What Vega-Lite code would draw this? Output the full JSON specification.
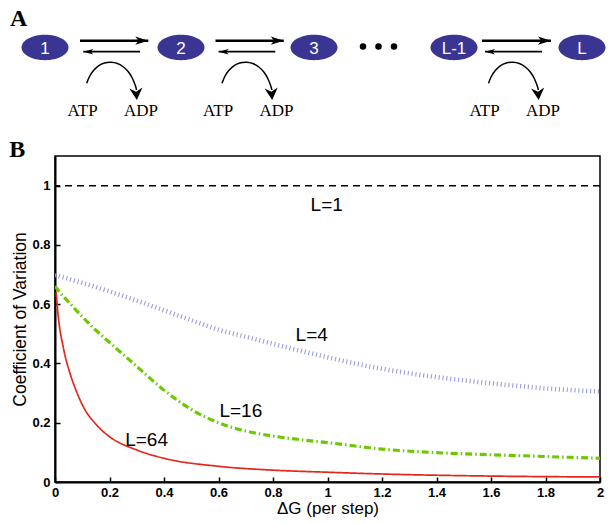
{
  "$schema": "https://vega.github.io/schema/vega-lite/v6.json",
  "width": 545,
  "height": 326,
  "autosize": {"type": "none"},
  "padding": {"left": 55, "top": 156, "right": 8, "bottom": 41},
  "background": "white",
  "config": {
    "view": {"stroke": "black", "strokeWidth": 1.5},
    "font": "Liberation Sans",
    "axis": {
      "grid": false,
      "domainColor": "black",
      "domainWidth": 2,
      "tickColor": "black",
      "tickWidth": 1.5,
      "tickSize": -5,
      "labelFont": "Liberation Sans",
      "labelFontWeight": "bold",
      "labelFontSize": 13,
      "labelColor": "black",
      "titleFont": "Liberation Sans",
      "titleFontWeight": "normal",
      "titleFontSize": 17.5,
      "titleColor": "black"
    }
  },
  "datasets": {
    "curves": [
      {"L": "4", "dg": 0, "cv": 0.698}, {"L": "4", "dg": 0.1, "cv": 0.672}, {"L": "4", "dg": 0.2, "cv": 0.643},
      {"L": "4", "dg": 0.3, "cv": 0.612}, {"L": "4", "dg": 0.4, "cv": 0.579}, {"L": "4", "dg": 0.5, "cv": 0.546},
      {"L": "4", "dg": 0.6, "cv": 0.514}, {"L": "4", "dg": 0.7, "cv": 0.49}, {"L": "4", "dg": 0.8, "cv": 0.466},
      {"L": "4", "dg": 0.9, "cv": 0.443}, {"L": "4", "dg": 1.0, "cv": 0.421}, {"L": "4", "dg": 1.1, "cv": 0.4},
      {"L": "4", "dg": 1.2, "cv": 0.382}, {"L": "4", "dg": 1.3, "cv": 0.367}, {"L": "4", "dg": 1.4, "cv": 0.354},
      {"L": "4", "dg": 1.5, "cv": 0.343}, {"L": "4", "dg": 1.6, "cv": 0.333}, {"L": "4", "dg": 1.7, "cv": 0.324},
      {"L": "4", "dg": 1.8, "cv": 0.316}, {"L": "4", "dg": 1.9, "cv": 0.31}, {"L": "4", "dg": 2.0, "cv": 0.305},
      {"L": "16", "dg": 0, "cv": 0.661}, {"L": "16", "dg": 0.025, "cv": 0.632}, {"L": "16", "dg": 0.05, "cv": 0.607},
      {"L": "16", "dg": 0.1, "cv": 0.558}, {"L": "16", "dg": 0.15, "cv": 0.512}, {"L": "16", "dg": 0.2, "cv": 0.471},
      {"L": "16", "dg": 0.3, "cv": 0.39}, {"L": "16", "dg": 0.4, "cv": 0.31}, {"L": "16", "dg": 0.5, "cv": 0.245},
      {"L": "16", "dg": 0.6, "cv": 0.2}, {"L": "16", "dg": 0.7, "cv": 0.172}, {"L": "16", "dg": 0.8, "cv": 0.155},
      {"L": "16", "dg": 0.9, "cv": 0.143}, {"L": "16", "dg": 1.0, "cv": 0.133}, {"L": "16", "dg": 1.2, "cv": 0.111},
      {"L": "16", "dg": 1.4, "cv": 0.099}, {"L": "16", "dg": 1.6, "cv": 0.092}, {"L": "16", "dg": 1.8, "cv": 0.086},
      {"L": "16", "dg": 2.0, "cv": 0.08},
      {"L": "64", "dg": 0.004, "cv": 0.64}, {"L": "64", "dg": 0.012, "cv": 0.558}, {"L": "64", "dg": 0.03, "cv": 0.456},
      {"L": "64", "dg": 0.055, "cv": 0.367}, {"L": "64", "dg": 0.079, "cv": 0.305}, {"L": "64", "dg": 0.104, "cv": 0.254},
      {"L": "64", "dg": 0.153, "cv": 0.192}, {"L": "64", "dg": 0.2, "cv": 0.153}, {"L": "64", "dg": 0.3, "cv": 0.108},
      {"L": "64", "dg": 0.4, "cv": 0.08}, {"L": "64", "dg": 0.6, "cv": 0.053}, {"L": "64", "dg": 0.8, "cv": 0.04},
      {"L": "64", "dg": 1.0, "cv": 0.033}, {"L": "64", "dg": 1.2, "cv": 0.027}, {"L": "64", "dg": 1.6, "cv": 0.02},
      {"L": "64", "dg": 2.0, "cv": 0.017}
    ],
    "single": [{"L": "1", "cv": 1}],
    "curveLabels": [
      {"text": "L=1", "dg": 0.997, "cv": 0.934},
      {"text": "L=4", "dg": 0.942, "cv": 0.496},
      {"text": "L=16", "dg": 0.682, "cv": 0.238},
      {"text": "L=64", "dg": 0.336, "cv": 0.142}
    ],
    "nodes": [
      {"label": "1", "x": 45, "y": 47.5},
      {"label": "2", "x": 181, "y": 47.5},
      {"label": "3", "x": 314, "y": 47.5},
      {"label": "L-1", "x": 454, "y": 47.5},
      {"label": "L", "x": 582, "y": 47.5}
    ],
    "dots": [{"x": 363, "y": 46.5}, {"x": 378.5, "y": 46.5}, {"x": 394, "y": 46.5}],
    "forward": [
      {"x": 80, "x2": 148.3, "y": 40.7},
      {"x": 215.5, "x2": 283.8, "y": 40.7},
      {"x": 482, "x2": 551, "y": 40.7}
    ],
    "backward": [
      {"x": 83.3, "x2": 140, "y": 51.7},
      {"x": 218.6, "x2": 275.3, "y": 51.7},
      {"x": 485, "x2": 542, "y": 51.7}
    ],
    "arcs": [
      {"arc": 1, "i": 0, "x": 86.7, "y": 83.3}, {"arc": 1, "i": 1, "x": 89.5, "y": 76.5}, {"arc": 1, "i": 2, "x": 93.5, "y": 70.5},
      {"arc": 1, "i": 3, "x": 98.5, "y": 65.8}, {"arc": 1, "i": 4, "x": 104.5, "y": 63}, {"arc": 1, "i": 5, "x": 111, "y": 62.3},
      {"arc": 1, "i": 6, "x": 117.5, "y": 63.5}, {"arc": 1, "i": 7, "x": 123.5, "y": 67}, {"arc": 1, "i": 8, "x": 128.5, "y": 72},
      {"arc": 1, "i": 9, "x": 132.5, "y": 78.5}, {"arc": 1, "i": 10, "x": 135.5, "y": 86}, {"arc": 1, "i": 11, "x": 136.5, "y": 90},
      {"arc": 2, "i": 0, "x": 222, "y": 83.3}, {"arc": 2, "i": 1, "x": 224.8, "y": 76.5}, {"arc": 2, "i": 2, "x": 228.8, "y": 70.5},
      {"arc": 2, "i": 3, "x": 233.8, "y": 65.8}, {"arc": 2, "i": 4, "x": 239.8, "y": 63}, {"arc": 2, "i": 5, "x": 246.3, "y": 62.3},
      {"arc": 2, "i": 6, "x": 252.8, "y": 63.5}, {"arc": 2, "i": 7, "x": 258.8, "y": 67}, {"arc": 2, "i": 8, "x": 263.8, "y": 72},
      {"arc": 2, "i": 9, "x": 267.8, "y": 78.5}, {"arc": 2, "i": 10, "x": 270.8, "y": 86}, {"arc": 2, "i": 11, "x": 271.8, "y": 90},
      {"arc": 3, "i": 0, "x": 488.5, "y": 83.3}, {"arc": 3, "i": 1, "x": 491.3, "y": 76.5}, {"arc": 3, "i": 2, "x": 495.3, "y": 70.5},
      {"arc": 3, "i": 3, "x": 500.3, "y": 65.8}, {"arc": 3, "i": 4, "x": 506.3, "y": 63}, {"arc": 3, "i": 5, "x": 512.8, "y": 62.3},
      {"arc": 3, "i": 6, "x": 519.3, "y": 63.5}, {"arc": 3, "i": 7, "x": 525.3, "y": 67}, {"arc": 3, "i": 8, "x": 530.3, "y": 72},
      {"arc": 3, "i": 9, "x": 534.3, "y": 78.5}, {"arc": 3, "i": 10, "x": 537.3, "y": 86}, {"arc": 3, "i": 11, "x": 538.3, "y": 90}
    ],
    "arcTips": [{"x": 136.9, "y": 100}, {"x": 272.2, "y": 100}, {"x": 538.7, "y": 100}],
    "chem": [
      {"text": "ATP", "x": 82.5, "y": 116}, {"text": "ADP", "x": 141, "y": 116},
      {"text": "ATP", "x": 218, "y": 116}, {"text": "ADP", "x": 276.5, "y": 116},
      {"text": "ATP", "x": 484.5, "y": 116}, {"text": "ADP", "x": 543, "y": 116}
    ],
    "panels": [{"text": "A", "x": 10, "y": 26}, {"text": "B", "x": 9.3, "y": 156.7}]
  },
  "layer": [
    {
      "layer": [
        {
          "data": {"name": "curves"},
          "mark": {"type": "line", "clip": true, "interpolate": "monotone"},
          "encoding": {
            "x": {
              "field": "dg", "type": "quantitative",
              "scale": {"domain": [0, 2], "nice": false, "zero": false},
              "axis": {
                "title": "ΔG (per step)",
                "values": [0, 0.2, 0.4, 0.6, 0.8, 1, 1.2, 1.4, 1.6, 1.8, 2],
                "format": "~g",
                "labelFlush": false,
                "labelPadding": 9,
                "titleFontSize": 17,
                "titleBaseline": "alphabetic",
                "titleY": 31
              }
            },
            "y": {
              "field": "cv", "type": "quantitative",
              "scale": {"domain": [0, 1.1], "nice": false, "zero": false},
              "axis": {
                "title": "Coefficient of Variation",
                "values": [0, 0.2, 0.4, 0.6, 0.8, 1],
                "format": "~g",
                "labelPadding": 10,
                "titleBaseline": "alphabetic",
                "titleX": -29.5
              }
            },
            "color": {
              "field": "L", "type": "nominal",
              "scale": {"domain": ["4", "16", "64"], "range": ["#9c9ce0", "#6cc800", "#e4261b"]},
              "legend": null
            },
            "strokeDash": {
              "field": "L", "type": "nominal",
              "scale": {"domain": ["4", "16", "64"], "range": [[1.1, 2.8], [7, 3, 1.5, 3], [1, 0]]},
              "legend": null
            },
            "strokeWidth": {
              "field": "L", "type": "ordinal",
              "scale": {"domain": ["4", "16", "64"], "range": [4.6, 1.7, 1.8]},
              "legend": null
            }
          }
        },
        {
          "data": {"name": "single"},
          "mark": {"type": "rule", "color": "black", "strokeWidth": 1.5, "strokeDash": [7, 5]},
          "encoding": {"y": {"field": "cv", "type": "quantitative"}}
        },
        {
          "data": {"name": "curveLabels"},
          "mark": {"type": "text", "font": "Liberation Sans", "fontSize": 19, "color": "black", "align": "center", "baseline": "middle"},
          "encoding": {
            "x": {"field": "dg", "type": "quantitative"},
            "y": {"field": "cv", "type": "quantitative"},
            "text": {"field": "text"}
          }
        }
      ]
    },
    {
      "layer": [
        {
          "data": {"name": "forward"},
          "mark": {"type": "rule", "color": "black", "strokeWidth": 2.6},
          "encoding": {
            "x": {"field": "x", "type": "quantitative", "scale": {"domain": [55, 600], "nice": false, "zero": false}, "axis": null},
            "x2": {"field": "x2"},
            "y": {"field": "y", "type": "quantitative", "scale": {"domain": [156, 482], "nice": false, "zero": false, "reverse": true}, "axis": null}
          }
        },
        {
          "data": {"name": "forward"},
          "mark": {"type": "point", "filled": true, "color": "black", "opacity": 1, "size": 169, "shape": "M 0 0 L -2 -0.64 L -1.5 0 L -2 0.64 Z"},
          "encoding": {
            "x": {"field": "x2", "type": "quantitative"},
            "y": {"field": "y", "type": "quantitative"}
          }
        },
        {
          "data": {"name": "backward"},
          "mark": {"type": "rule", "color": "black", "strokeWidth": 1.8},
          "encoding": {
            "x": {"field": "x", "type": "quantitative"},
            "x2": {"field": "x2"},
            "y": {"field": "y", "type": "quantitative"}
          }
        },
        {
          "data": {"name": "backward"},
          "mark": {"type": "point", "filled": true, "color": "black", "opacity": 1, "size": 100, "shape": "M 0 0 L 2 -0.55 L 1.5 0 L 2 0.55 Z"},
          "encoding": {
            "x": {"field": "x", "type": "quantitative"},
            "y": {"field": "y", "type": "quantitative"}
          }
        },
        {
          "data": {"name": "arcs"},
          "mark": {"type": "line", "color": "black", "strokeWidth": 1.5, "interpolate": "cardinal"},
          "encoding": {
            "x": {"field": "x", "type": "quantitative"},
            "y": {"field": "y", "type": "quantitative"},
            "detail": {"field": "arc"},
            "order": {"field": "i", "type": "quantitative"}
          }
        },
        {
          "data": {"name": "arcTips"},
          "mark": {"type": "point", "filled": true, "color": "black", "opacity": 1, "size": 144, "angle": 85, "shape": "M 0 0 L -2 -1.1 L -1.4 0 L -2 1.1 Z"},
          "encoding": {
            "x": {"field": "x", "type": "quantitative"},
            "y": {"field": "y", "type": "quantitative"}
          }
        },
        {
          "data": {"name": "nodes"},
          "mark": {"type": "point", "filled": true, "color": "#3a3593", "opacity": 1, "size": 2209, "shape": "M -1 0 A 1 0.54 0 1 1 1 0 A 1 0.54 0 1 1 -1 0 Z"},
          "encoding": {
            "x": {"field": "x", "type": "quantitative"},
            "y": {"field": "y", "type": "quantitative"}
          }
        },
        {
          "data": {"name": "nodes"},
          "mark": {"type": "text", "font": "Liberation Sans", "fontSize": 17, "color": "white", "align": "center", "baseline": "middle", "dy": 1.5},
          "encoding": {
            "x": {"field": "x", "type": "quantitative"},
            "y": {"field": "y", "type": "quantitative"},
            "text": {"field": "label"}
          }
        },
        {
          "data": {"name": "dots"},
          "mark": {"type": "point", "filled": true, "shape": "circle", "color": "black", "opacity": 1, "size": 42},
          "encoding": {
            "x": {"field": "x", "type": "quantitative"},
            "y": {"field": "y", "type": "quantitative"}
          }
        },
        {
          "data": {"name": "chem"},
          "mark": {"type": "text", "font": "Liberation Serif", "fontSize": 17, "color": "black", "align": "center", "baseline": "alphabetic"},
          "encoding": {
            "x": {"field": "x", "type": "quantitative"},
            "y": {"field": "y", "type": "quantitative"},
            "text": {"field": "text"}
          }
        },
        {
          "data": {"name": "panels"},
          "mark": {"type": "text", "font": "Liberation Serif", "fontWeight": "bold", "fontSize": 24, "color": "black", "align": "left", "baseline": "alphabetic"},
          "encoding": {
            "x": {"field": "x", "type": "quantitative"},
            "y": {"field": "y", "type": "quantitative"},
            "text": {"field": "text"}
          }
        }
      ]
    }
  ],
  "resolve": {"scale": {"x": "independent", "y": "independent"}}
}
